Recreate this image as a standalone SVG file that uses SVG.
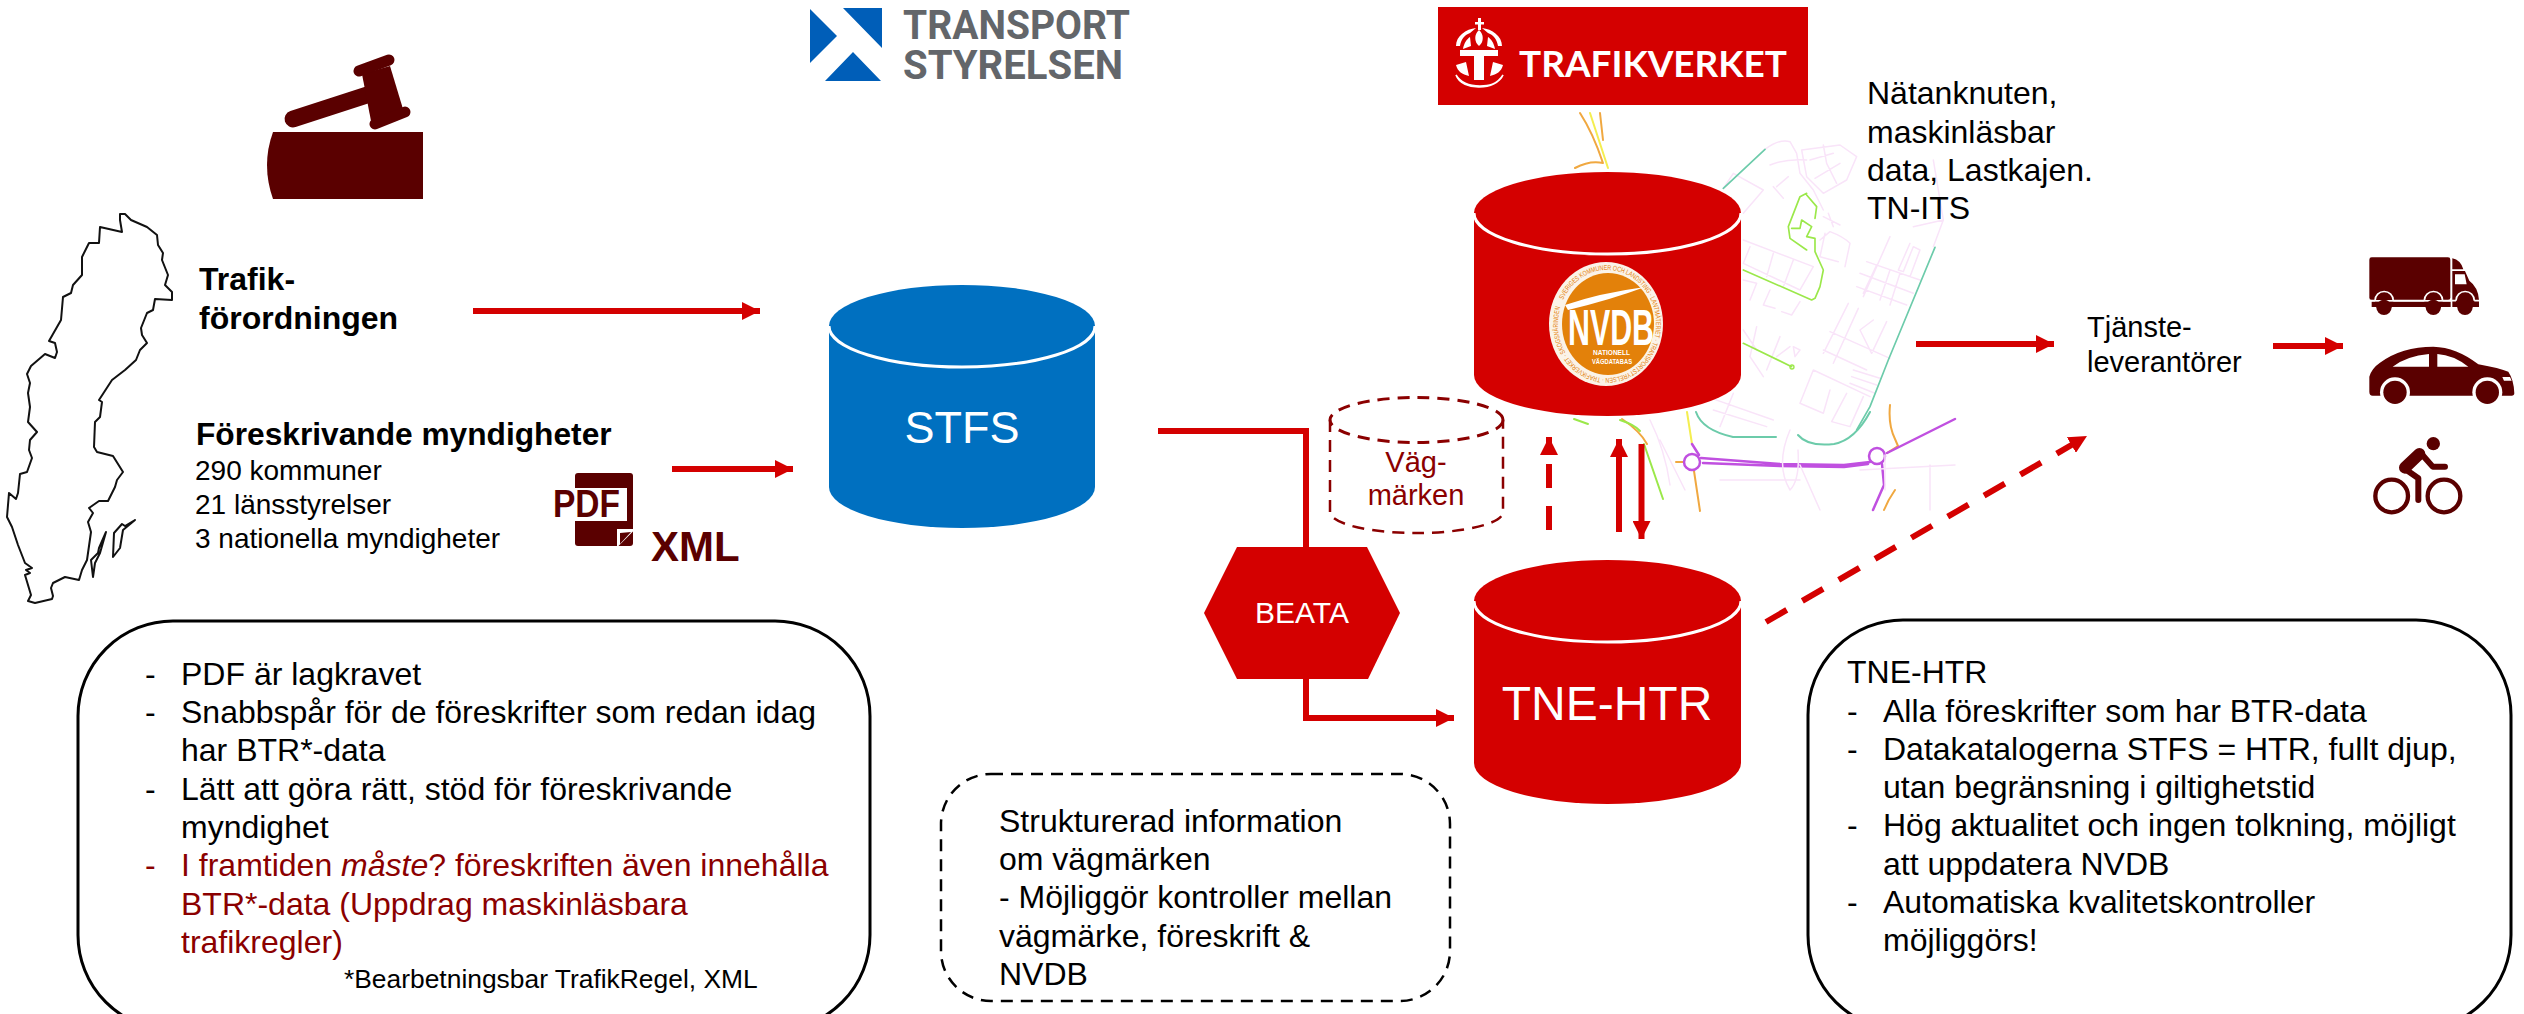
<svg xmlns="http://www.w3.org/2000/svg" width="2524" height="1014" viewBox="0 0 2524 1014">
<style>
text{font-family:"Liberation Sans",Arial,sans-serif}
.t32{font-size:32px;fill:#000}
.t28{font-size:28px;fill:#000}
.b{font-weight:700}
.dr{fill:#8B0000}
.wt{fill:#fff}
.ico{fill:#5A0000}
.box{fill:#fff;stroke:#000;stroke-width:3}
.lnk{fill:none;stroke:#D40000;stroke-width:6}
.dash{stroke-dasharray:24 18}
.map path,.map ellipse{fill:none;stroke-linecap:round;stroke-linejoin:round}
.pk{stroke:#F9E4F9;stroke-width:4.5}
.gr{stroke:#9BE84A;stroke-width:5}
.te{stroke:#6CCBAA;stroke-width:5}
.m2 .gr,.m2 .te{stroke-width:2}
.m2 .pk{stroke-width:1.5}
.pu{stroke:#C050E0;stroke-width:2.5}
.or{stroke:#F0A840;stroke-width:2}
.ye{stroke:#F4EE50;stroke-width:2}
</style>
<defs>
<marker id="ah" markerUnits="userSpaceOnUse" markerWidth="18" markerHeight="18" refX="18" refY="9" orient="auto"><path d="M0,0L18,9L0,18Z" fill="#D40000"/></marker>
</defs>
<rect width="2524" height="1014" fill="#fff"/>

<g id="map" class="map">
<g transform="translate(1700,130) scale(.3333)">
<path class="pk" d="M195,58Q240,25 270,35L290,70L300,130L340,180L370,240M210,105Q260,85 320,90M305,60L420,45L470,80L440,150L370,190L320,140L305,60M330,90L400,70M370,45L380,100L410,160M345,145L420,100M230,170L265,140M220,170L250,205M70,175L100,130L190,180L130,250M130,330L340,410L300,480L130,400M150,350L130,400M220,370L200,440M280,390L250,470M130,450L170,460L150,510M210,480L190,525L225,535M300,515L275,555L245,545M360,330L390,305Q430,320 450,340L435,410M375,310L360,380L415,395M370,260L420,285M385,250L400,290M570,320L490,500M630,340L595,420L610,425L640,350L660,360L630,440M500,395L660,450M480,430L640,490M470,470L620,525M530,405L490,490M570,420L540,510M600,430L570,525M445,520L370,670M475,535L400,700M390,605L570,685M370,660L500,720M560,575L515,670L480,600L520,570M340,720L510,800M300,820L340,720M300,820L370,850L390,780M440,790L395,875L450,890L490,800M460,720L540,745M455,740L530,765M450,760L525,790M130,600L170,660M170,590L150,680L190,740M240,620L200,720M270,650L230,680M280,650L300,660L285,680ZM20,800L220,870M40,840L200,890M100,790L60,890M640,290L730,270L700,90M730,270L700,350"/>
<path class="te" d="M70,175L195,58M705,352L565,690L510,830L470,900"/>
<path class="gr" d="M320,190L300,200L265,290L270,325L320,360M320,195L350,230L345,265M275,295L300,295L305,270L335,290L320,320L345,325L345,365L370,420L360,470L345,505L335,510L130,420M130,640L275,710"/>
<ellipse cx="276" cy="711" rx="6" ry="6" stroke="#9BE84A" stroke-width="4"/>
</g>
<g class="m2">
<path class="ye" d="M1590,113L1608,168M1687,412L1692,444"/>
<path class="or" d="M1580,113Q1593,133 1603,163Q1590,160 1575,168M1600,113L1603,140M1622,419Q1640,431 1647,444M1890,405Q1888,425 1895,439L1898,446L1887,453M1676,462H1684M1694,471L1700,511M1895,490Q1888,500 1884,510"/>
<path class="gr" d="M1644,444L1663,499M1620,420Q1635,425 1640,431M1574,419L1588,424"/>
<path class="te" d="M1696,412Q1702,430 1733,437H1776M1798,435Q1808,447 1834,444Q1855,440 1870,412"/>
<path class="pu" d="M1692,444L1699,455M1701,458L1780,464L1844,465L1870,462M1703,463L1780,466L1844,467L1868,464M1887,453L1955,419M1882,464L1884,485L1873,510"/>
<ellipse class="pu" cx="1692" cy="462" rx="8" ry="8"/>
<ellipse class="pu" cx="1877" cy="456" rx="8" ry="8"/>
<path class="pk" d="M1650,420Q1665,450 1670,485M1660,440L1685,490M1790,430Q1775,465 1790,490Q1800,480 1798,450M1720,480H1800M1860,470L1955,465M1885,455V490M1930,465V510M1800,465L1820,510"/>
</g>
</g>

<g id="sweden">
<path fill="#fff" stroke="#111" stroke-width="2" stroke-linejoin="round" d="M120,214L120,220L122,232L100,227L99,243L89,243L82,257L82,275L73,285L71,293L63,297L61,320L49,341L55,343L57,352L55,358L45,354L31,366L27,374L30,383L28,393L30,407L28,422L37,432L30,440L29,450L32,458L27,472L20,474L18,493L16,499L9,493L7,517L12,527L18,545L25,563L32,568L26,570L30,573L25,575L31,595L28,601L35,603L52,599L53,596L51,588L53,583L65,577L79,580L82,570L87,560L91,532L88,522L93,513L89,508L99,501L108,501L115,487L117,480L123,472L113,456L97,452L94,447L95,422L100,417L102,402L99,400L112,380L125,370L136,360L140,350L147,343L142,335L141,328L147,313L153,310L155,299L172,300L172,292L165,285L168,275L162,260L163,253L158,245L157,235L147,227L131,220L125,214Z"/>
<path fill="none" stroke="#111" stroke-width="2" stroke-linejoin="round" d="M106,532L99,548L98,553L91,560L93,577L95,563L100,553ZM135,520L125,526L122,524L114,533L113,557L120,548L123,530Z"/>
</g>

<g id="gavel" class="ico">
<path d="M273,132H423V199H273Q261,165 273,132Z"/>
<path d="M293,119L367,95" stroke="#5A0000" stroke-width="17" stroke-linecap="round"/>
<path d="M362,74L390,66L403,109L371,121Z"/>
<path d="M359,71L389,60M375,124L405,112" stroke="#5A0000" stroke-width="11" stroke-linecap="round"/>
</g>

<g id="trafikforordningen">
<text class="t32 b" x="199" y="290">Trafik-</text>
<text class="t32 b" x="199" y="329">förordningen</text>
</g>
<g id="foreskrivande">
<text class="t32 b" x="196" y="445" font-size="31.7" style="font-size:31.7px">Föreskrivande myndigheter</text>
<text class="t28" x="195" y="480">290 kommuner</text>
<text class="t28" x="195" y="514">21 länsstyrelser</text>
<text class="t28" x="195" y="548">3 nationella myndigheter</text>
</g>
<g id="pdf-icon">
<rect class="ico" x="575" y="473" width="58" height="73" rx="3"/>
<rect x="550" y="488" width="77" height="33" fill="#fff"/>
<path d="M633,530L618,545V530Z" fill="#fff" stroke="#fff" stroke-width="2"/>
<path class="ico" d="M631,532L620,544V533Z"/>
<text x="553" y="517" class="b" font-size="39" fill="#5A0000" textLength="67" lengthAdjust="spacingAndGlyphs">PDF</text>
<text x="651" y="561" class="b" font-size="42" fill="#5A0000">XML</text>
</g>

<g id="logo-transportstyrelsen">
<path fill="#005EB8" d="M810,9L837,36L810,63ZM843,8H882V48ZM853,52L881,81H825Z"/>
<text x="903" y="39" font-size="41" font-weight="700" fill="#63666A" style="font-family:Roboto,sans-serif" textLength="227" lengthAdjust="spacingAndGlyphs">TRANSPORT</text>
<text x="903" y="79" font-size="41" font-weight="700" fill="#63666A" style="font-family:Roboto,sans-serif" textLength="220" lengthAdjust="spacingAndGlyphs">STYRELSEN</text>
</g>

<g id="logo-trafikverket">
<rect x="1438" y="7" width="370" height="98" fill="#D40000"/>
<g fill="#fff">
<rect x="1478" y="18" width="3" height="12"/><rect x="1475" y="22" width="9" height="2.5"/>
<path d="M1479,30C1484,34 1484,42 1479,46C1474,42 1474,34 1479,30Z"/>
<path d="M1456,46C1456,36 1466,29 1476,28L1470,33C1464,35 1461,40 1460,46ZM1502,46C1502,36 1492,29 1482,28L1488,33C1494,35 1497,40 1498,46Z"/>
<path d="M1463,49C1464,43 1467,39 1470,37L1471,46ZM1495,49C1494,43 1491,39 1488,37L1487,46Z"/>
<path d="M1460,50H1498V56H1484V80H1474V56H1460Z"/>
<path d="M1456,65C1458,72 1462,74 1469,76L1466,62ZM1503,65C1501,72 1497,74 1490,76L1493,62Z"/>
<path d="M1456,75C1462,85 1472,86 1480,86C1488,86 1497,85 1503,75C1497,90 1462,92 1456,75Z" stroke="#fff" stroke-width="1.5"/>
</g>
<text x="1519" y="77" font-size="37" font-weight="700" fill="#fff" style="font-family:Lato,sans-serif" textLength="268" lengthAdjust="spacingAndGlyphs">TRAFIKVERKET</text>
</g>

<g id="connectors">
<path class="lnk" d="M473,311H760" marker-end="url(#ah)"/>
<path class="lnk" d="M672,469H793" marker-end="url(#ah)"/>
<path class="lnk" d="M1158,431H1306V547"/>
<path class="lnk" d="M1306,679V718H1454" marker-end="url(#ah)"/>
<path class="lnk dash" d="M1549,530V437" marker-end="url(#ah)"/>
<path class="lnk" d="M1619,532V439" marker-end="url(#ah)"/>
<path class="lnk" d="M1641.5,444V539" marker-end="url(#ah)"/>
<path class="lnk dash" d="M1766,622L2087,436" marker-end="url(#ah)"/>
<path class="lnk" d="M1916,344H2054" marker-end="url(#ah)"/>
<path class="lnk" d="M2273,346H2343" marker-end="url(#ah)"/>
</g>

<g id="stfs">
<path d="M829,326A133,41 0 0 1 1095,326V487A133,41 0 0 1 829,487Z" fill="#0070C0"/>
<path d="M829,326A133,41 0 0 0 1095,326" fill="none" stroke="#fff" stroke-width="3"/>
<text class="wt" x="962" y="443" font-size="45" text-anchor="middle">STFS</text>
</g>

<g id="nvdb">
<path d="M1474,213A133.5,41 0 0 1 1741,213V375A133.5,41 0 0 1 1474,375Z" fill="#D40000"/>
<path d="M1474,213A133.5,41 0 0 0 1741,213" fill="none" stroke="#fff" stroke-width="3"/>
<ellipse cx="1606" cy="324" rx="57" ry="62" fill="#FBF3E8"/>
<ellipse cx="1608" cy="324" rx="46" ry="51" fill="#E3810A"/>
<path d="M1565,305Q1600,293 1645,287Q1610,300 1568,310Z" fill="#fff"/>
<text x="1568" y="345" class="b wt" font-size="50" textLength="86" lengthAdjust="spacingAndGlyphs">NVDB</text>
<text x="1593" y="355" class="b wt" font-size="6.5" textLength="37" lengthAdjust="spacingAndGlyphs">NATIONELL</text>
<text x="1592" y="364" class="b wt" font-size="6.5" textLength="40" lengthAdjust="spacingAndGlyphs">VÄGDATABAS</text>
<path id="ring" d="M1563,300A49,54 0 0 1 1651,348A49,54 0 0 1 1563,300Z" fill="none"/>
<text font-size="7" fill="#E3810A"><textPath href="#ring" textLength="316" lengthAdjust="spacingAndGlyphs">SVERIGES KOMMUNER OCH LANDSTING · LANTMÄTERIET · TRANSPORTSTYRELSEN · TRAFIKVERKET · SKOGSNÄRINGEN</textPath></text>
</g>

<g id="tne-htr">
<path d="M1474,601A133.5,41 0 0 1 1741,601V763A133.5,41 0 0 1 1474,763Z" fill="#D40000"/>
<path d="M1474,601A133.5,41 0 0 0 1741,601" fill="none" stroke="#fff" stroke-width="3"/>
<text class="wt" x="1607" y="720" font-size="48" text-anchor="middle">TNE-HTR</text>
</g>

<g id="beata">
<path d="M1237,547H1367L1400,613L1368,679H1237L1204,613Z" fill="#D40000"/>
<text class="wt" x="1302" y="623" font-size="30" text-anchor="middle">BEATA</text>
</g>

<g id="vagmarken">
<g fill="none" stroke="#8B0000">
<ellipse cx="1416.5" cy="420" rx="86.5" ry="22.5" stroke-width="3" stroke-dasharray="12 8"/>
<path d="M1330,420V512A86.5,21 0 0 0 1503,512V420" stroke-width="2.5" stroke-dasharray="12 8"/>
</g>
<text class="dr" x="1416" y="472" font-size="29" text-anchor="middle">Väg-</text>
<text class="dr" x="1416" y="505" font-size="29" text-anchor="middle">märken</text>
</g>

<g id="natanknuten">
<text class="t32" x="1867" y="104">Nätanknuten,</text>
<text class="t32" x="1867" y="143">maskinläsbar</text>
<text class="t32" x="1867" y="181">data, Lastkajen.</text>
<text class="t32" x="1867" y="219">TN-ITS</text>
</g>

<g id="tjansteleverantorer">
<text x="2087" y="337" font-size="29">Tjänste-</text>
<text x="2087" y="372" font-size="29">leverantörer</text>
</g>

<g id="truck" class="ico" transform="translate(2330,230) scale(.3333)">
<rect x="118" y="82" width="243" height="128" rx="7"/>
<rect x="125" y="215" width="237" height="16"/>
<path d="M367,85Q392,90 400,118H367ZM367,123H405L418,152Q445,172 447,210V231H367ZM375,133V163H410L404,133Z" fill-rule="evenodd"/>
<circle cx="162" cy="232" r="23"/><circle cx="310" cy="232" r="23"/><circle cx="405" cy="232" r="23"/>
<path d="M135,212A27,27 0 0 1 190,212M283,212A27,27 0 0 1 338,212M378,212A27,27 0 0 1 433,212M118,212H135M190,212H283M338,212H378M433,212H447" fill="none" stroke="#fff" stroke-width="5"/>
</g>

<g id="car" class="ico" transform="translate(2330,230) scale(.3333)">
<path d="M128,497Q118,497 118,485V440Q125,415 150,398Q215,350 310,350Q380,352 445,403Q510,415 535,425Q552,450 553,490Q553,497 545,497Z"/>
<circle cx="195" cy="487" r="45" fill="#fff"/><circle cx="472" cy="487" r="45" fill="#fff"/>
<circle cx="195" cy="487" r="35"/><circle cx="472" cy="487" r="35"/>
<path d="M188,410Q230,378 297,372V410ZM322,372Q370,375 415,410H322ZM517,441H540L545,452H522Z" fill="#fff"/>
</g>

<g id="bicycle" transform="translate(2330,230) scale(.3333)">
<circle class="ico" cx="310" cy="641" r="20"/>
<g fill="none" stroke="#5A0000" stroke-linecap="round" stroke-linejoin="round">
<path d="M268,672L225,713" stroke-width="36"/>
<path d="M280,678L308,710H345" stroke-width="18"/>
<path d="M222,715L265,745V810" stroke-width="18"/>
<circle cx="185" cy="798" r="49" stroke-width="13"/>
<circle cx="342" cy="798" r="49" stroke-width="13"/>
</g>
</g>

<g id="note-pdf">
<rect class="box" x="78" y="621" width="792" height="409" rx="95"/>
<text class="t32" x="145" y="685">-</text><text class="t32" x="181" y="685">PDF är lagkravet</text>
<text class="t32" x="145" y="723">-</text><text class="t32" x="181" y="723">Snabbspår för de föreskrifter som redan idag</text>
<text class="t32" x="181" y="761">har BTR*-data</text>
<text class="t32" x="145" y="800">-</text><text class="t32" x="181" y="800">Lätt att göra rätt, stöd för föreskrivande</text>
<text class="t32" x="181" y="838">myndighet</text>
<text class="t32 dr" x="145" y="876">-</text><text class="t32 dr" x="181" y="876">I framtiden <tspan font-style="italic">måste</tspan>? föreskriften även innehålla</text>
<text class="t32 dr" x="181" y="915">BTR*-data (Uppdrag maskinläsbara</text>
<text class="t32 dr" x="181" y="953">trafikregler)</text>
<text x="344" y="988" font-size="26.4">*Bearbetningsbar TrafikRegel, XML</text>
</g>

<g id="note-vagmarken">
<rect x="941" y="774" width="509" height="227" rx="50" fill="none" stroke="#000" stroke-width="2.5" stroke-dasharray="12 8"/>
<text class="t32" x="999" y="832">Strukturerad information</text>
<text class="t32" x="999" y="870">om vägmärken</text>
<text class="t32" x="999" y="908">- Möjliggör kontroller mellan</text>
<text class="t32" x="999" y="947">vägmärke, föreskrift &amp;</text>
<text class="t32" x="999" y="985">NVDB</text>
</g>

<g id="note-tne-htr">
<rect class="box" x="1808" y="620" width="703" height="410" rx="95"/>
<text class="t32" x="1847" y="683">TNE-HTR</text>
<text class="t32" x="1847" y="722">-</text><text class="t32" x="1883" y="722">Alla föreskrifter som har BTR-data</text>
<text class="t32" x="1847" y="760">-</text><text class="t32" x="1883" y="760">Datakatalogerna STFS = HTR, fullt djup,</text>
<text class="t32" x="1883" y="798">utan begränsning i giltighetstid</text>
<text class="t32" x="1847" y="836">-</text><text class="t32" x="1883" y="836">Hög aktualitet och ingen tolkning, möjligt</text>
<text class="t32" x="1883" y="875">att uppdatera NVDB</text>
<text class="t32" x="1847" y="913">-</text><text class="t32" x="1883" y="913">Automatiska kvalitetskontroller</text>
<text class="t32" x="1883" y="951">möjliggörs!</text>
</g>
</svg>
